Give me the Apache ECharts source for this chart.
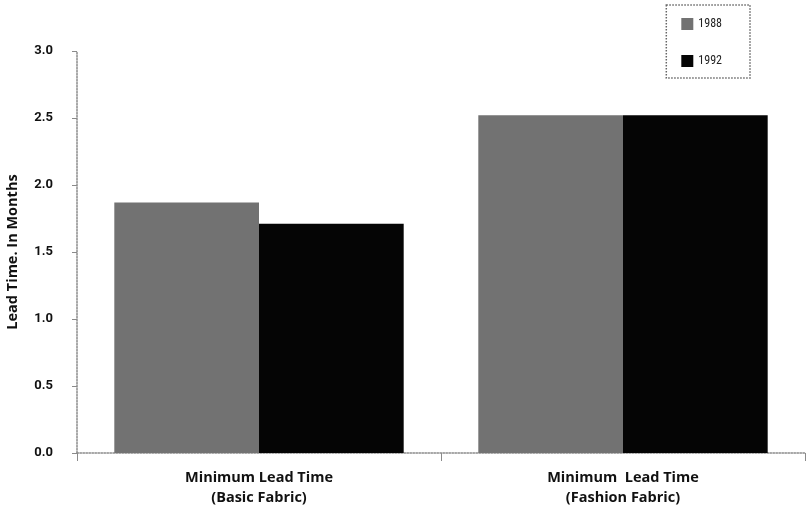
<!DOCTYPE html>
<html>
<head>
<meta charset="utf-8">
<script src="https://cdn.jsdelivr.net/npm/echarts@6/dist/echarts.min.js"></script>
<style>
  html, body { margin: 0; padding: 0; background: #fff; }
  #chart { width: 809px; height: 508px; }
</style>
</head>
<body>
<div id="chart"></div>
<script>
// Minimum lead time, in months, by fabric type
const categories = ['Minimum Lead Time\n(Basic Fabric)', 'Minimum  Lead Time\n(Fashion Fabric)'];
const years = ['1988', '1992'];
const values1988 = [1.87, 2.52];
const values1992 = [1.71, 2.52];
const yTicks = [0, 0.5, 1.0, 1.5, 2.0, 2.5, 3.0];

const LABEL_FONT = '"Open Sans", Roboto, sans-serif';
const TICK_FONT = 'Roboto, "Open Sans", sans-serif';
const LEGEND_FONT = '"Liberation Sans Narrow", "Roboto Condensed", Roboto, sans-serif';
const axisGray = '#8a8a8a';

const chart = echarts.init(document.getElementById('chart'), null, { renderer: 'canvas' });

chart.setOption({
  animation: false,
  backgroundColor: '#ffffff',
  grid: { left: 77, right: 4, top: 51, bottom: 55, containLabel: false, outerBoundsMode: 'none' },
  legend: {
    orient: 'vertical',
    right: 59,
    top: 5,
    icon: 'rect',
    itemWidth: 12,
    itemHeight: 12,
    itemGap: 25,
    padding: [13, 28, 11, 15],
    borderColor: '#666',
    borderWidth: 1.5,
    borderType: 'dotted',
    itemStyle: { borderWidth: 0 },
    textStyle: { fontFamily: LEGEND_FONT, fontSize: 12, color: '#222' },
    data: years
  },
  xAxis: {
    type: 'category',
    data: categories,
    axisLine: { lineStyle: { color: axisGray, width: 1.5, type: 'dotted' } },
    axisTick: { show: true, length: 8, alignWithLabel: false, lineStyle: { color: axisGray } },
    axisLabel: {
      margin: 15,
      fontFamily: LABEL_FONT,
      fontWeight: 'bold',
      fontSize: 14.5,
      color: '#111',
      lineHeight: 20,
      interval: 0
    },
    splitLine: { show: false }
  },
  yAxis: {
    type: 'value',
    min: 0,
    max: 3,
    interval: 0.5,
    name: 'Lead Time. In Months',
    nameLocation: 'middle',
    nameGap: 57,
    nameRotate: 90,
    nameMoveOverlap: false,
    nameTextStyle: { fontFamily: LABEL_FONT, fontWeight: 'bold', fontSize: 14.5, color: '#111' },
    axisLine: { show: true, lineStyle: { color: axisGray, width: 1.5, type: 'dotted' } },
    axisTick: { show: true, inside: false, length: 5, lineStyle: { color: axisGray } },
    axisLabel: {
      margin: 24,
      fontFamily: TICK_FONT,
      fontWeight: 'bold',
      fontSize: 13,
      color: '#111',
      formatter: v => (yTicks.includes(v) ? v.toFixed(1) : '')
    },
    splitLine: { show: false }
  },
  series: [
    {
      name: years[0],
      type: 'bar',
      data: values1988,
      barGap: '0%',
      barCategoryGap: '20.5%',
      itemStyle: { color: '#727272' }
    },
    {
      name: years[1],
      type: 'bar',
      data: values1992,
      itemStyle: { color: '#050505' }
    }
  ]
});
</script>
</body>
</html>
